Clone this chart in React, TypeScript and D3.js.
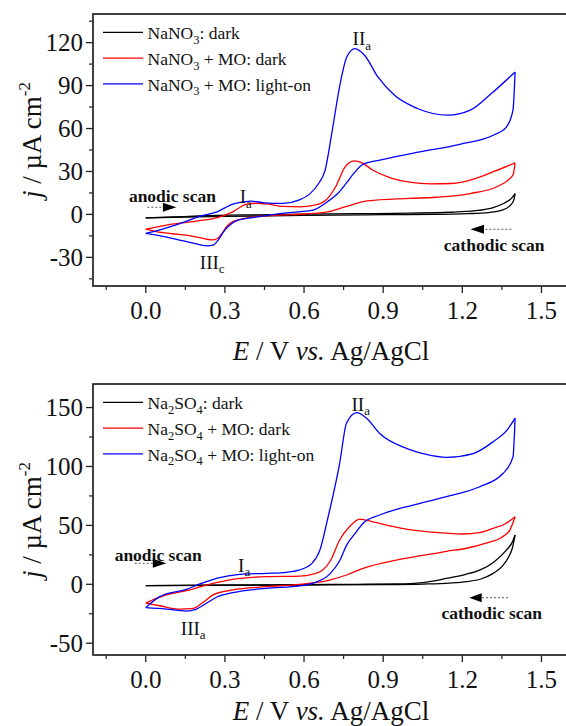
import React from "react";
import * as d3 from "d3";

type Pt = [number, number];

const FONT = "'Liberation Serif', 'Times New Roman', Times, serif";

// ---- potential axis (shared by both panels) ----
const xTicks = [0, 0.3, 0.6, 0.9, 1.2, 1.5];
const xMinorTicks = [-0.15, 0.15, 0.45, 0.75, 1.05, 1.35];

// ---- current-density axes ----
const nitrateTicks = [-30, 0, 30, 60, 90, 120];
const nitrateMinorTicks = [-45, -15, 15, 45, 75, 105, 135];
const sulfateTicks = [-50, 0, 50, 100, 150];
const sulfateMinorTicks = [-25, 25, 75, 125];

// ---- NaNO3 electrolyte: [E (V), j (µA cm-2)] ----
const nitrateDarkAnodic: Pt[] = [
  [0, -2.4], [0.1, -1.8], [0.2, -1.1], [0.4, -0.3], [0.6, 0.2], [0.8, 0.5], [1.0, 0.9],
  [1.15, 1.5], [1.25, 2.6], [1.32, 5], [1.36, 8], [1.385, 11], [1.4, 14.6],
];
const nitrateDarkCathodic: Pt[] = [
  [0, -2.4], [0.1, -2.1], [0.3, -1.4], [0.6, -0.6], [0.9, -0.2], [1.1, 0], [1.22, 0.5],
  [1.3, 1.3], [1.35, 3], [1.38, 6], [1.395, 10], [1.4, 14.6],
];
const nitrateMoDarkAnodic: Pt[] = [
  [0, -10.3], [0.05, -8.6], [0.1, -6.8], [0.2, -4.5], [0.268, -2.4], [0.33, 1.8], [0.38, 7],
  [0.42, 7.8], [0.46, 7.3], [0.52, 5.6], [0.584, 5.3], [0.64, 6.5], [0.68, 9.5], [0.72, 19.3],
  [0.755, 33], [0.79, 37.4], [0.82, 36], [0.86, 31], [0.92, 26], [1.0, 22.5], [1.08, 21.3],
  [1.16, 21.6], [1.24, 24.5], [1.32, 30], [1.4, 36],
];
const nitrateMoDarkCathodic: Pt[] = [
  [0, -10.3], [0.04, -12], [0.1, -13.5], [0.154, -14.5], [0.2, -16], [0.25, -17.8], [0.27, -17],
  [0.29, -13], [0.306, -8.6], [0.33, -5], [0.4, -2], [0.5, -0.5], [0.6, 0.3], [0.69, 1.8],
  [0.755, 5.3], [0.84, 9.5], [1.0, 11.2], [1.1, 12], [1.23, 14.6], [1.33, 19.3], [1.392, 27.4],
  [1.4, 36],
];
const nitrateMoLightAnodic: Pt[] = [
  [0, -13.3], [0.05, -11], [0.1, -8.2], [0.15, -5], [0.2, -1.6], [0.27, 1.8], [0.33, 7.2],
  [0.37, 8.8], [0.4, 9.3], [0.45, 8.1], [0.52, 7.7], [0.58, 10], [0.62, 14], [0.655, 21.6],
  [0.68, 31], [0.705, 56.5], [0.737, 91.4], [0.762, 110], [0.793, 115.8], [0.83, 111],
  [0.88, 96], [0.944, 83], [1.03, 74], [1.145, 69.3], [1.23, 72.8], [1.31, 84.4], [1.4, 99.5],
];
const nitrateMoLightCathodic: Pt[] = [
  [0, -13.3], [0.04, -14.5], [0.1, -16.7], [0.18, -20], [0.23, -22], [0.255, -21.5],
  [0.27, -19], [0.3, -11], [0.35, -4], [0.43, -1.6], [0.508, 0.5], [0.58, 1.8], [0.634, 3],
  [0.697, 10], [0.73, 15], [0.761, 22], [0.79, 29], [0.823, 35], [0.887, 37.9], [1.039, 43.7],
  [1.19, 49], [1.317, 55.3], [1.367, 61], [1.392, 72.8], [1.4, 99.5],
];

// ---- Na2SO4 electrolyte: [E (V), j (µA cm-2)] ----
const sulfateDarkAnodic: Pt[] = [
  [0, -1.2], [0.3, -0.9], [0.6, -0.6], [0.9, -0.3], [1.05, 0.2], [1.15, 1], [1.216, 2.2],
  [1.27, 4.5], [1.317, 9.3], [1.35, 15], [1.375, 23], [1.39, 31], [1.4, 41.8],
];
const sulfateDarkCathodic: Pt[] = [
  [0, -1.2], [0.3, -0.6], [0.6, -0.2], [0.8, 0], [0.95, 0.3], [1.05, 1.5], [1.14, 5],
  [1.21, 8.3], [1.266, 12], [1.32, 19], [1.367, 29], [1.39, 36], [1.4, 41.8],
];
const sulfateMoDarkAnodic: Pt[] = [
  [0, -16], [0.04, -12], [0.078, -9], [0.154, -5.4], [0.23, -0.6], [0.33, 4.2], [0.457, 6.5],
  [0.584, 7], [0.63, 8.5], [0.67, 12], [0.7, 20], [0.735, 37.6], [0.773, 49], [0.811, 55.4],
  [0.861, 53], [0.94, 49], [1.013, 46], [1.1, 44], [1.2, 42.7], [1.27, 44], [1.317, 47.5],
  [1.36, 51], [1.4, 57.4],
];
const sulfateMoDarkCathodic: Pt[] = [
  [0, -16], [0.053, -18.2], [0.129, -21], [0.18, -20.4], [0.22, -14.8], [0.255, -9],
  [0.33, -4.8], [0.457, -2], [0.584, 0], [0.697, 3.6], [0.761, 7.9], [0.824, 13.6],
  [0.95, 20.6], [1.05, 24.5], [1.14, 28], [1.215, 30.6], [1.29, 35], [1.35, 40], [1.38, 46],
  [1.4, 57.4],
];
const sulfateMoLightAnodic: Pt[] = [
  [0, -19.8], [0.053, -10.5], [0.154, -4.3], [0.205, 0.3], [0.268, 5.1], [0.356, 8.5],
  [0.457, 9.3], [0.533, 10.2], [0.58, 12], [0.63, 17.8], [0.66, 29], [0.69, 56],
  [0.735, 102.7], [0.761, 136.7], [0.8, 145.7], [0.837, 141], [0.887, 128], [0.988, 115.4],
  [1.06, 110.5], [1.14, 107.8], [1.241, 111], [1.317, 121], [1.37, 131], [1.4, 141],
];
const sulfateMoLightCathodic: Pt[] = [
  [0, -19.8], [0.078, -21], [0.154, -22.7], [0.19, -21.2], [0.23, -16.1], [0.268, -11],
  [0.33, -7.1], [0.457, -3.4], [0.584, -1.4], [0.634, 1], [0.7, 9.3], [0.735, 20],
  [0.761, 33], [0.8, 45], [0.824, 51.8], [0.887, 58.8], [1.013, 67.3], [1.14, 74.4],
  [1.266, 82.8], [1.354, 94], [1.392, 108], [1.4, 141],
];

const seriesColors = ["#000000", "#ff0000", "#0000ff"];
const nitrateLegend = ["NaNO_3: dark", "NaNO_3 + MO: dark", "NaNO_3 + MO: light-on"];
const sulfateLegend = ["Na_2SO_4: dark", "Na_2SO_4 + MO: dark", "Na_2SO_4 + MO: light-on"];

interface Note { text: string; at: Pt; bold?: boolean }
interface ScanArrow { from: Pt; to: Pt; tipLen: number }

// "_x" marks a one-character subscript
function Rich({ s, size, subSize, drop }: { s: string; size: number; subSize: number; drop: number }) {
  const parts = s.split(/(_.)/).filter((p) => p.length > 0);
  let cur = 0;
  return (
    <>
      {parts.map((p, i) => {
        const isSub = p.startsWith("_");
        const target = isSub ? drop : 0;
        const dy = target - cur;
        cur = target;
        return (
          <tspan key={i} dy={dy} fontSize={isSub ? subSize : size}>
            {isSub ? p.slice(1) : p}
          </tspan>
        );
      })}
    </>
  );
}

interface PanelProps {
  top: number;
  bottom: number;
  yDomain: [number, number];
  yTicks: number[];
  yMinor: number[];
  curves: { anodic: Pt[]; cathodic: Pt[] }[];
  legend: string[];
  peaks: Note[];
  scanNotes: Note[];
  arrows: ScanArrow[];
  yTitleCenter: number;
  xTitleBaseline: number;
}

const LEFT = 93;

function Panel(p: PanelProps) {
  const x = d3.scaleLinear().domain([-0.2, 1.6]).range([LEFT, LEFT + 1.8 * 263.8]);
  const y = d3.scaleLinear().domain(p.yDomain).range([p.bottom, p.top]);
  const line = d3
    .line<Pt>()
    .x((d) => x(d[0]))
    .y((d) => y(d[1]))
    .curve(d3.curveMonotoneX);
  const [x0, x1] = x.range();
  const axisColor = "#222";

  return (
    <g fontFamily={FONT}>
      {/* curves */}
      {p.curves.map((c, i) => (
        <g key={i} stroke={seriesColors[i]} strokeWidth={1.3} fill="none">
          <path d={line([...c.anodic].sort((a, b) => a[0] - b[0])) || ""} />
          <path d={line([...c.cathodic].sort((a, b) => a[0] - b[0])) || ""} />
        </g>
      ))}

      {/* frame */}
      <rect x={x0} y={p.top} width={x1 - x0} height={p.bottom - p.top} fill="none" stroke={axisColor} strokeWidth={1.7} />

      {/* x ticks */}
      {xTicks.map((t) => (
        <g key={"xt" + t}>
          <line x1={x(t)} x2={x(t)} y1={p.bottom} y2={p.bottom + 7} stroke={axisColor} strokeWidth={1.3} />
          <text x={x(t)} y={p.bottom + 33} fontSize={25} textAnchor="middle" fill="#111">
            {t.toFixed(1)}
          </text>
        </g>
      ))}
      {xMinorTicks.map((t) => (
        <line key={"xm" + t} x1={x(t)} x2={x(t)} y1={p.bottom} y2={p.bottom + 4} stroke={axisColor} strokeWidth={1.2} />
      ))}

      {/* y ticks */}
      {p.yTicks.map((t) => (
        <g key={"yt" + t}>
          <line x1={x0 - 7} x2={x0} y1={y(t)} y2={y(t)} stroke={axisColor} strokeWidth={1.3} />
          <text x={x0 - 10} y={y(t)} dy="0.35em" fontSize={25} textAnchor="end" fill="#111">
            {String(t)}
          </text>
        </g>
      ))}
      {p.yMinor.map((t) => (
        <line key={"ym" + t} x1={x0 - 4} x2={x0} y1={y(t)} y2={y(t)} stroke={axisColor} strokeWidth={1.2} />
      ))}

      {/* axis titles */}
      <text x={331} y={p.xTitleBaseline} fontSize={27} textAnchor="middle" fill="#111">
        <tspan fontStyle="italic">E</tspan>
        <tspan> / V </tspan>
        <tspan fontStyle="italic">vs.</tspan>
        <tspan> Ag/AgCl</tspan>
      </text>
      <text transform={`translate(41,${p.yTitleCenter}) rotate(-90)`} fontSize={27} textAnchor="middle" fill="#111">
        <tspan fontStyle="italic">j</tspan>
        <tspan> / µA cm</tspan>
        <tspan dy={-11} fontSize={17}>-2</tspan>
      </text>

      {/* legend */}
      {p.legend.map((label, i) => {
        const ly = p.top + 18.3 + i * 25.8;
        return (
          <g key={label}>
            <line x1={x0 + 10} x2={x0 + 50} y1={ly} y2={ly} stroke={seriesColors[i]} strokeWidth={1.2} />
            <text x={x0 + 54.5} y={ly + 7} fill="#111">
              <Rich s={label} size={17.5} subSize={12.5} drop={4.5} />
            </text>
          </g>
        );
      })}

      {/* peak labels */}
      {p.peaks.map((n) => (
        <text key={n.text} x={x(n.at[0])} y={y(n.at[1])} fill="#111">
          <Rich s={n.text} size={19} subSize={13} drop={4.5} />
        </text>
      ))}

      {/* scan direction notes */}
      {p.scanNotes.map((n) => (
        <text key={n.text} x={x(n.at[0])} y={y(n.at[1])} fontSize={17.5} fontWeight="bold" fill="#111">
          {n.text}
        </text>
      ))}
      {p.arrows.map((a, i) => {
        const ax0 = x(a.from[0]);
        const ax1 = x(a.to[0]);
        const ay = y(a.from[1]);
        const dir = Math.sign(ax1 - ax0);
        const base = ax1 - dir * a.tipLen;
        return (
          <g key={i}>
            <line x1={ax0} x2={base} y1={ay} y2={ay} stroke="#555" strokeWidth={1} strokeDasharray="2,2" />
            <path d={`M${base},${ay - 4.5}L${ax1},${ay}L${base},${ay + 4.5}Z`} fill="#000" />
          </g>
        );
      })}
    </g>
  );
}

export default function App() {
  return (
    <svg
      width={566}
      height={726}
      viewBox="0 0 566 726"
      style={{ position: "absolute", left: 0, top: 0, background: "#fff" }}
    >
      <rect width={566} height={726} fill="#fff" />
      <Panel
        top={14}
        bottom={286}
        yDomain={[-50, 140]}
        yTicks={nitrateTicks}
        yMinor={nitrateMinorTicks}
        curves={[
          { anodic: nitrateDarkAnodic, cathodic: nitrateDarkCathodic },
          { anodic: nitrateMoDarkAnodic, cathodic: nitrateMoDarkCathodic },
          { anodic: nitrateMoLightAnodic, cathodic: nitrateMoLightCathodic },
        ]}
        legend={nitrateLegend}
        peaks={[
          { text: "II_a", at: [0.784, 118.3] },
          { text: "I_a", at: [0.356, 7.8] },
          { text: "III_c", at: [0.205, -38.1] },
        ]}
        scanNotes={[
          { text: "anodic scan", at: [-0.064, 8.5] },
          { text: "cathodic scan", at: [1.13, -25.6] },
        ]}
        arrows={[
          { from: [0.006, 5], to: [0.116, 5], tipLen: 13.5 },
          { from: [1.386, -10.4], to: [1.231, -10.4], tipLen: 13.5 },
        ]}
        yTitleCenter={140}
        xTitleBaseline={360}
      />
      <Panel
        top={384}
        bottom={655}
        yDomain={[-60, 170]}
        yTicks={sulfateTicks}
        yMinor={sulfateMinorTicks}
        curves={[
          { anodic: sulfateDarkAnodic, cathodic: sulfateDarkCathodic },
          { anodic: sulfateMoDarkAnodic, cathodic: sulfateMoDarkCathodic },
          { anodic: sulfateMoLightAnodic, cathodic: sulfateMoLightCathodic },
        ]}
        legend={sulfateLegend}
        peaks={[
          { text: "II_a", at: [0.78, 147.4] },
          { text: "I_a", at: [0.35, 10.7] },
          { text: "III_a", at: [0.133, -43] },
        ]}
        scanNotes={[
          { text: "anodic scan", at: [-0.118, 20] },
          { text: "cathodic scan", at: [1.121, -29.5] },
        ]}
        arrows={[
          { from: [-0.042, 17.8], to: [0.078, 17.8], tipLen: 13.5 },
          { from: [1.373, -11.4], to: [1.226, -11.4], tipLen: 12.5 },
        ]}
        yTitleCenter={520}
        xTitleBaseline={720}
      />
    </svg>
  );
}
